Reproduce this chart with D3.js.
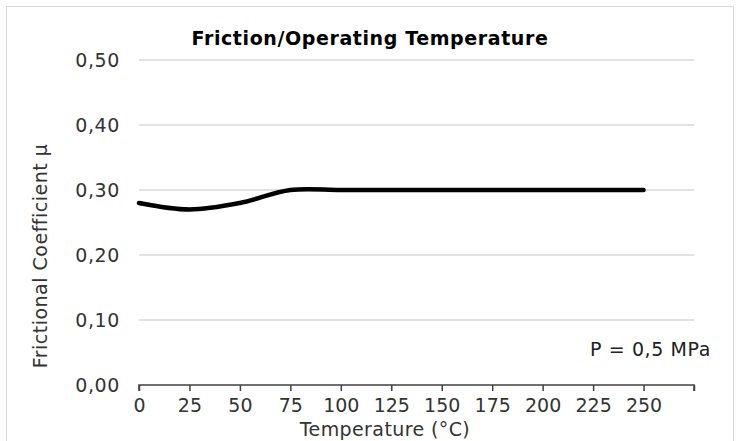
<!DOCTYPE html>
<html><head><meta charset="utf-8">
<script src="https://cdn.jsdelivr.net/npm/d3@7/dist/d3.min.js"></script>
<style>body{margin:0;background:#fff}svg{display:block}text{font-family:"DejaVu Sans",Verdana,sans-serif}</style>
</head><body>
<svg id="c" width="740" height="441"></svg>
<script>
const temps = [0, 25, 50, 75, 100, 125, 150, 175, 200, 225, 250];
const friction = [0.28, 0.27, 0.28, 0.30, 0.30, 0.30, 0.30, 0.30, 0.30, 0.30, 0.30];
const xTicks = [0, 25, 50, 75, 100, 125, 150, 175, 200, 225, 250, 275];
const xTickLabels = ["0","25","50","75","100","125","150","175","200","225","250",""];
const yTicks = [0, 0.1, 0.2, 0.3, 0.4, 0.5];
const yTickLabels = ["0,00","0,10","0,20","0,30","0,40","0,50"];
const title = "Friction/Operating Temperature";
const xTitle = "Temperature (°C)";
const yTitle = "Frictional Coefficient μ";
const note = "P = 0,5 MPa";

const svg = d3.select("#c");
svg.append("rect").attr("x",6.5).attr("y",6.5).attr("width",727).attr("height",440)
  .attr("fill","#fff").attr("stroke","#d9d9d9");

const x = d3.scaleLinear().domain([0,275]).range([139,694]);
const y = d3.scaleLinear().domain([0,0.5]).range([385,60]);

// gridlines
svg.append("g").selectAll("line").data(yTicks.filter(d=>d>0)).join("line")
  .attr("x1",x(0)).attr("x2",x(275)).attr("y1",d=>y(d)).attr("y2",d=>y(d))
  .attr("stroke","#d9d9d9").attr("stroke-width",1.3);

// y labels
svg.append("g").selectAll("text").data(yTicks).join("text")
  .attr("x",120).attr("y",d=>y(d)).attr("dy","0.38em").attr("text-anchor","end")
  .attr("font-size",19).attr("letter-spacing",0.6).attr("fill","#333").text((d,i)=>yTickLabels[i]);

// x axis
const xAxis = d3.axisBottom(x).tickValues(xTicks).tickSize(6).tickPadding(4)
  .tickFormat((d,i)=>xTickLabels[i]);
const gx = svg.append("g").attr("transform",`translate(0,${y(0)})`).call(xAxis);
gx.select(".domain").attr("stroke","#404040").attr("stroke-width",1.5)
  .attr("d",`M${x(0)},6V0H${x(275)}V6`);
gx.selectAll(".tick line").attr("stroke","#404040").attr("stroke-width",1.5);
gx.selectAll(".tick text").attr("font-size",19).attr("fill","#333")
  .attr("font-family","DejaVu Sans, sans-serif").attr("y",27).attr("dy",0);

// line
const line = d3.line().x((d,i)=>x(temps[i])).y(d=>y(d)).curve(d3.curveCatmullRom.alpha(0.5));
svg.append("path").datum(friction).attr("d",line).attr("fill","none")
  .attr("stroke","#000").attr("stroke-width",4.5).attr("stroke-linecap","round");

// titles
svg.append("text").attr("x",370).attr("y",45).attr("text-anchor","middle")
  .attr("font-size",19).attr("letter-spacing",0.6).attr("font-weight","bold").attr("fill","#000").text(title);
svg.append("text").attr("x",385).attr("y",436).attr("text-anchor","middle")
  .attr("font-size",19).attr("letter-spacing",0.4).attr("fill","#333").text(xTitle);
svg.append("text").attr("transform","translate(47,256) rotate(-90)").attr("text-anchor","middle")
  .attr("font-size",19).attr("letter-spacing",0.5).attr("fill","#333").text(yTitle);
svg.append("text").attr("x",711).attr("y",356).attr("text-anchor","end")
  .attr("font-size",19).attr("letter-spacing",0.6).attr("fill","#222").text(note);
</script>
</body></html>
